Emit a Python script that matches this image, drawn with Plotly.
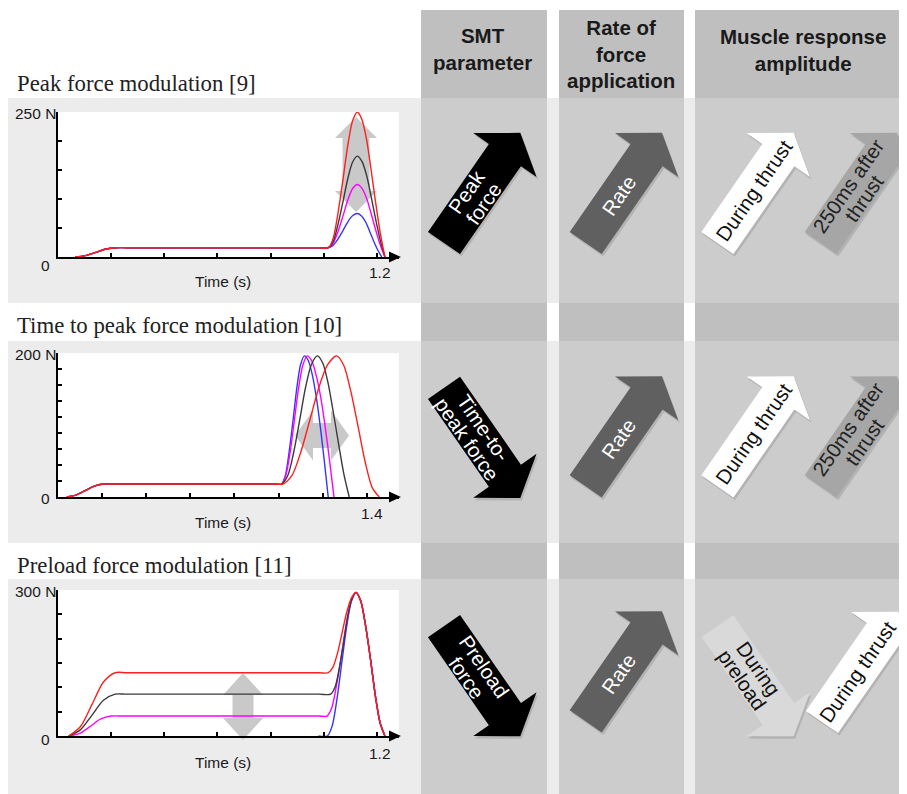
import math
import plotly.graph_objects as go

W, H = 907, 794
OFF = 8            # the page body margin shifts the figure by 8 px
FW, FH = W - OFF, H - OFF

# ---------------- DATA ----------------
# Row 1: Peak force modulation (time s, force N)
pf_pre_t = [0.064, 0.103, 0.142, 0.181, 0.22, 0.26, 0.98]
pf_pre_f = [0, 2.3, 8.0, 13.7, 16, 16, 16]
pf_rise_t = [1.017, 1.035, 1.053, 1.072, 1.090, 1.108, 1.126]
pf_fall_t = [1.143, 1.161, 1.178, 1.195, 1.213, 1.230]
pf_blue_fall_t = [1.141, 1.157, 1.172, 1.187, 1.203, 1.218]
pf_red = [16, 31.7, 74.5, 133, 191.5, 234.3, 250, 237.5, 202.5, 150, 93.8, 40, 0]
pf_black = [16, 26.6, 55.5, 95, 134.5, 163.4, 174, 165.3, 140.9, 104.4, 65.3, 27.8, 0]
pf_magenta = [16, 23.3, 43.3, 70.5, 97.8, 117.7, 125, 118.8, 101.3, 75, 46.9, 20, 0]
pf_blue = [16, 20, 30.8, 45.5, 60.3, 71, 75, 71.3, 60.8, 45, 28.1, 12, 0]

# Row 2: Time to peak force modulation
tp_pre_t = [0.042, 0.083, 0.125, 0.166, 0.207, 0.25, 0.98]
tp_pre_f = [0, 2.6, 8.8, 15.0, 18, 18, 18]
tp_blue_t = [1.014, 1.031, 1.048, 1.066, 1.083, 1.100, 1.117, 1.135, 1.153, 1.171, 1.189, 1.207, 1.225]
tp_blue_f = [18, 29.9, 62.5, 107, 151.5, 184.1, 196, 189.3, 169.7, 138.6, 98, 50.8, 0]
tp_magenta_t = [1.014, 1.033, 1.053, 1.072, 1.091, 1.111, 1.130, 1.150, 1.170, 1.191, 1.211, 1.231, 1.251]
tp_magenta_f = [18, 29.9, 62.5, 107, 151.5, 184.1, 196, 189.3, 169.7, 138.6, 98, 50.8, 0]
tp_black_t = [1.015, 1.042, 1.069, 1.096, 1.122, 1.149, 1.176, 1.200, 1.224, 1.248, 1.272, 1.296, 1.320]
tp_black_f = [18, 29.9, 62.5, 107, 151.5, 184.1, 196, 186.2, 158.8, 117.6, 73.5, 31.4, 0]
tp_red_t = [1.020, 1.061, 1.101, 1.142, 1.182, 1.223, 1.263, 1.295, 1.327, 1.360, 1.392, 1.424, 1.456]
tp_red_f = [18, 29.9, 62.5, 107, 151.5, 184.1, 196, 182.9, 147, 98, 49, 13.1, 0]

# Row 3: Preload force modulation
pl_pre_t = [0.04, 0.084, 0.128, 0.171, 0.215, 0.26, 0.98]
pl_red_pre_f = [0, 19, 65, 111, 130, 130, 130]
pl_black_pre_f = [0, 12.6, 43, 73.4, 86, 86, 86]
pl_mag_pre_t = [0.045, 0.084, 0.123, 0.161, 0.2, 0.25, 0.98]
pl_mag_pre_f = [0, 6, 20.5, 35, 41, 41, 41]
pl_blue_rise_t = [0.98, 1.013, 1.031, 1.049, 1.067, 1.085, 1.103, 1.121]
pl_blue_rise_f = [0, 0, 19.8, 73.8, 147.5, 221, 275.2, 295]
pl_mag_rise_t = [1.012, 1.030, 1.048, 1.067, 1.085, 1.103, 1.121]
pl_mag_rise_f = [41, 58, 104.5, 168, 231.5, 278, 295]
pl_black_rise_t = [1.026, 1.042, 1.058, 1.074, 1.089, 1.105, 1.121]
pl_black_rise_f = [86, 100, 138.3, 190.5, 242.8, 281, 295]
pl_red_rise_t = [1.017, 1.034, 1.052, 1.069, 1.086, 1.104, 1.121]
pl_red_rise_f = [130, 141, 171.3, 212.5, 253.8, 284, 295]
pl_fall_t = [1.139, 1.157, 1.176, 1.194, 1.212, 1.230]
pl_fall_f = [277.3, 227.2, 156.4, 82.6, 26.6, 0]

row_titles = ["Peak force modulation [9]", "Time to peak force modulation [10]",
              "Preload force modulation [11]"]
y_top_labels = ["250 N", "200 N", "300 N"]
x_end_labels = ["1.2", "1.4", "1.2"]
y_max = [250, 200, 300]
y_dtick = [50, 200 / 9, 50]
headers = ["SMT<br>parameter", "Rate of<br>force<br>application", "Muscle response<br>amplitude"]

COL = dict(red="#ff1f1f", black="#3a3a3a", magenta="#ff00ff", blue="#3535ff")

# ---------------- helpers (page pixel -> paper) ----------------
def X(px):
    return (px - OFF) / FW

def Y(py):
    return 1 - (py - OFF) / FH

shapes = []
annotations = []

def rect(x0, y0, x1, y1, color, layer="below"):
    shapes.append(dict(type="rect", xref="paper", yref="paper", x0=X(x0), x1=X(x1),
                       y0=Y(y1), y1=Y(y0), fillcolor=color, line_width=0, layer=layer))

def poly(points, color, layer="below", opacity=1.0):
    path = "M " + " L ".join(f"{X(px):.5f},{Y(py):.5f}" for px, py in points) + " Z"
    shapes.append(dict(type="path", xref="paper", yref="paper", path=path, fillcolor=color,
                       line_width=0, layer=layer, opacity=opacity))

def block_arrow_pts(cx, cy, ang, L=134, w=39, wh=77, hl=27, dx=0, dy=0):
    a = math.radians(ang)
    ux, uy = math.cos(a), -math.sin(a)
    nx, ny = uy, -ux
    def p(al, pe):
        return (cx + ux * al + nx * pe + dx, cy + uy * al + ny * pe + dy)
    return [p(0, w / 2), p(L - hl, w / 2), p(L - hl, wh / 2), p(L, 0),
            p(L - hl, -wh / 2), p(L - hl, -w / 2), p(0, -w / 2)]

def v_double(cx, yt, yb, hh, hl, sh):
    return [(cx, yt), (cx + hh, yt + hl), (cx + sh, yt + hl), (cx + sh, yb - hl), (cx + hh, yb - hl),
            (cx, yb), (cx - hh, yb - hl), (cx - sh, yb - hl), (cx - sh, yt + hl), (cx - hh, yt + hl)]

def h_double(cy, xl, xr, hh, hl, sh):
    return [(xl, cy), (xl + hl, cy - hh), (xl + hl, cy - sh), (xr - hl, cy - sh), (xr - hl, cy - hh),
            (xr, cy), (xr - hl, cy + hh), (xr - hl, cy + sh), (xl + hl, cy + sh), (xl + hl, cy + hh)]

def text(px, py, s, size, color="#1a1a1a", family="Liberation Sans", xanchor="center",
         angle=0, bold=False):
    if bold:
        s = "<b>" + s + "</b>"
    annotations.append(dict(x=X(px), y=Y(py), xref="paper", yref="paper", text=s, showarrow=False,
                            xanchor=xanchor, yanchor="middle", textangle=angle,
                            font=dict(family=family, size=size, color=color)))

# ---------------- background panels ----------------
bands = [(98, 303), (341, 543), (579, 794)]
for y0, y1 in bands:
    rect(8, y0, 907, y1, "#ececec")
cols = [(421, 547), (559, 684), (695, 907)]
strips = [(10, 98), (303, 341), (543, 579)]
for x0, x1 in cols:
    rect(x0, 10, x1, 794, "#cccccc")
    for y0, y1 in strips:
        rect(x0, y0, x1, y1, "#bfbfbf")

# plot areas (pixel boxes)
plot_boxes = [(58, 112, 399, 257), (57.5, 353, 399, 497), (58, 590, 399, 736)]
for (x0, y0, x1, y1) in plot_boxes:
    rect(x0, y0, x1, y1, "#ffffff")

# grey modulation arrows inside plots
poly(v_double(356, 117, 212, 21, 21, 13.5), "#c9c9c9")
poly(h_double(435.5, 295, 349, 25, 18, 12.5), "#c9c9c9")
poly(v_double(243, 673, 740, 20, 22, 10.5), "#c9c9c9")

# x-axis arrow heads
for (x0, y0, x1, y1) in plot_boxes:
    poly([(389, y1 - 5.5), (401, y1), (389, y1 + 5.5)], "#000000", layer="above")

# ---------------- block arrows in the table ----------------
UP, DOWN = 55.3, -55.3
arrows = [
    (444, 243, UP, "#000000", "Peak<br>force", "#ffffff", 55),
    (585.7, 243, UP, "#606060", "Rate", "#ffffff", 58),
    (717.4, 243, UP, "#ffffff", "During thrust", "#111111", 64),
    (820.7, 243, UP, "#a6a6a6", "250ms after<br>thrust", "#222222", 62),
    (444, 387.8, DOWN, "#000000", "Time-to-<br>peak force", "#ffffff", 56),
    (585.7, 486.4, UP, "#606060", "Rate", "#ffffff", 58),
    (717.4, 486.4, UP, "#ffffff", "During thrust", "#111111", 64),
    (820.7, 486.4, UP, "#a6a6a6", "250ms after<br>thrust", "#222222", 62),
    (444, 626.2, DOWN, "#000000", "Preload<br>force", "#ffffff", 56),
    (585.7, 721.4, UP, "#606060", "Rate", "#ffffff", 58),
    (717.4, 626.2, DOWN, "#d9d9d9", "During<br>preload", "#111111", 58),
    (822, 722, UP, "#ffffff", "During thrust", "#111111", 62),
]
LINE_GAP = 20.5
for cx, cy, ang, fill, label, tcol, along in arrows:
    poly(block_arrow_pts(cx, cy, ang, dx=1.5, dy=2.5), "#000000", opacity=0.12)
    poly(block_arrow_pts(cx, cy, ang), fill)
    a = math.radians(ang)
    mx, my = cx + math.cos(a) * along, cy - math.sin(a) * along
    upx, upy = -math.sin(a), -math.cos(a)      # text "up" direction on screen
    parts = label.split("<br>")
    n = len(parts)
    for i, part in enumerate(parts):
        off = ((n - 1) / 2 - i) * LINE_GAP
        text(mx + upx * off, my + upy * off, part, 20.5, color=tcol, angle=-ang)

# header texts
text(483, 49, headers[0], 20.5, bold=True)
text(621, 54, headers[1], 20.5, bold=True)
text(803, 50, headers[2], 20.5, bold=True)

# row titles and axis labels
title_y = [84, 325, 565]
for i in range(3):
    x0, y0, x1, y1 = plot_boxes[i]
    text(15, title_y[i], row_titles[i], 22.8, family="Liberation Serif", xanchor="left", color="#222222")
    text(58, y0 + 1, y_top_labels[i], 15.5, xanchor="right")
zero_y = [265, 499, 739]
end_xy = [(380, 272), (372, 513), (380, 753)]
time_y = [282, 522, 762]
for i in range(3):
    text(45, zero_y[i], "0", 15.5)
    text(end_xy[i][0], end_xy[i][1], x_end_labels[i], 15.5)
    text(223, time_y[i], "Time (s)", 15.5)

# ---------------- traces ----------------
fig = go.Figure()

def line(t, f, color, k):
    fig.add_trace(go.Scatter(x=t, y=f, mode="lines",
                             line=dict(color=color, width=1.4, shape="spline", smoothing=0.8),
                             xaxis="x" + ("" if k == 1 else str(k)), yaxis="y" + ("" if k == 1 else str(k)),
                             hoverinfo="skip"))

line(pf_pre_t + pf_rise_t + pf_blue_fall_t, pf_pre_f + pf_blue, COL["blue"], 1)
line(pf_pre_t + pf_rise_t + pf_fall_t, pf_pre_f + pf_magenta, COL["magenta"], 1)
line(pf_pre_t + pf_rise_t + pf_fall_t, pf_pre_f + pf_black, COL["black"], 1)
line(pf_pre_t + pf_rise_t + pf_fall_t, pf_pre_f + pf_red, COL["red"], 1)

line(tp_pre_t + tp_blue_t, tp_pre_f + tp_blue_f, COL["blue"], 2)
line(tp_pre_t + tp_magenta_t, tp_pre_f + tp_magenta_f, COL["magenta"], 2)
line(tp_pre_t + tp_black_t, tp_pre_f + tp_black_f, COL["black"], 2)
line(tp_pre_t + tp_red_t, tp_pre_f + tp_red_f, COL["red"], 2)

line(pl_blue_rise_t + pl_fall_t, pl_blue_rise_f + pl_fall_f, COL["blue"], 3)
line(pl_mag_pre_t + pl_mag_rise_t + pl_fall_t, pl_mag_pre_f + pl_mag_rise_f + pl_fall_f, COL["magenta"], 3)
line(pl_pre_t + pl_black_rise_t + pl_fall_t, pl_black_pre_f + pl_black_rise_f + pl_fall_f, COL["black"], 3)
line(pl_pre_t + pl_red_rise_t + pl_fall_t, pl_red_pre_f + pl_red_rise_f + pl_fall_f, COL["red"], 3)

# ---------------- axes ----------------
px_per_s = [265.8, 221.0, 265.8]
layout_axes = {}
for i in range(3):
    x0, y0, x1, y1 = plot_boxes[i]
    sfx = "" if i == 0 else str(i + 1)
    common = dict(showgrid=False, zeroline=False, showline=True, linecolor="#000000", linewidth=2,
                  ticks="inside", ticklen=4, tickwidth=1.5, tickcolor="#000000",
                  showticklabels=False, fixedrange=True)
    layout_axes["xaxis" + sfx] = dict(common, domain=[X(x0), X(x1)], range=[0, (x1 - x0) / px_per_s[i]],
                                       tick0=0, dtick=0.2, anchor="y" + sfx)
    layout_axes["yaxis" + sfx] = dict(common, domain=[Y(y1), Y(y0)], range=[0, y_max[i]],
                                       tick0=0, dtick=y_dtick[i], anchor="x" + sfx)

fig.update_layout(width=FW, height=FH, margin=dict(l=0, r=0, t=0, b=0),
                  paper_bgcolor="#ffffff", plot_bgcolor="rgba(0,0,0,0)", showlegend=False,
                  shapes=shapes, annotations=annotations, **layout_axes)

fig.write_html("out.html")
